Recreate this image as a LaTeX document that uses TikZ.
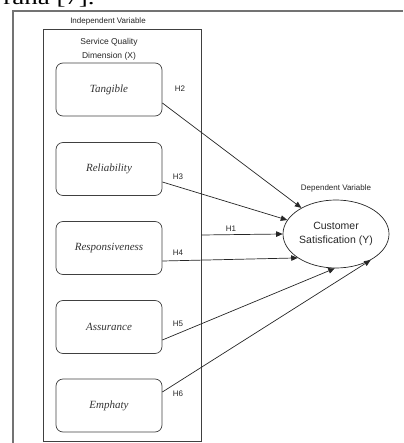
\documentclass[tikz,border=0pt]{standalone}
\usepackage{fontspec}
\setmainfont{Liberation Serif}
\setsansfont{Liberation Sans}
\usetikzlibrary{arrows.meta,shapes.geometric}
\begin{document}
\begin{tikzpicture}[x=1pt,y=-1pt,
  lbl/.style={font=\sffamily\fontsize{8}{9.5}\selectfont, text=black!85, inner sep=0, align=center},
  dimbox/.style={draw=black!75, rounded corners=7pt, minimum width=106pt, minimum height=53pt, inner sep=0,
    font=\itshape\fontsize{11}{13}\selectfont, text=black!80, line width=0.7pt},
  arr/.style={-{Triangle[length=6.5pt,width=5.5pt]}, draw=black!85, line width=0.7pt}]
\useasboundingbox (0,0) rectangle (403,443);
\begin{scope}
\clip (0,0) rectangle (403,443);
\node[anchor=base east, font=\fontsize{20}{20}\selectfont, inner sep=0, xscale=1.35] (cut) at (95,5) {rana [7].};
\end{scope}
\coordinate (ftl) at (13,11);
\coordinate (fbl) at (13,443);
\coordinate (ftr) at (403,11);
\draw[black!55, line width=1.2pt] (fbl) -- (ftl) -- (ftr);
\node[lbl] (iv) at (108,21) {Independent Variable};
\node[draw=black!75, line width=0.7pt, minimum width=158pt, minimum height=412pt, inner sep=0] (inner) at (122,235) {};
\node[lbl, font=\sffamily\fontsize{8.5}{14}\selectfont] (sq) at (109,49) {Service Quality\\Dimension (X)};
\node[dimbox] (tan) at (109,89.5) {Tangible};
\node[dimbox] (rel) at (109,169) {Reliability};
\node[dimbox] (res) at (109,248) {Responsiveness};
\node[dimbox] (ass) at (109,327) {Assurance};
\node[dimbox] (emp) at (109,405.5) {Emphaty};
\node[draw=black!85, line width=0.7pt, ellipse, minimum width=106pt, minimum height=68pt, inner sep=0,
  align=center, font=\sffamily\fontsize{10.5}{14}\selectfont, text=black!85] (cs) at (336,234) {Customer\\Satisfication (Y)};
\node[lbl] (dv) at (336,188) {Dependent Variable};
\draw[arr] ([yshift=-13.5pt]tan.east) -- (cs.143);
\draw[arr] ([yshift=-13pt]rel.east) -- (cs.164);
\draw[arr] (inner.east) -- (cs.180);
\draw[arr] ([yshift=-13pt]res.east) -- (cs.212);
\draw[arr] ([yshift=-13pt]ass.east) -- (cs.268);
\draw[arr] ([yshift=13.5pt]emp.east) -- (cs.323);
\node[lbl] (h2) at (180,89) {H2};
\node[lbl] (h3) at (178,177) {H3};
\node[lbl] (h1) at (231,229) {H1};
\node[lbl] (h4) at (178,253) {H4};
\node[lbl] (h5) at (178,324) {H5};
\node[lbl] (h6) at (178,394) {H6};
\end{tikzpicture}
\end{document}
